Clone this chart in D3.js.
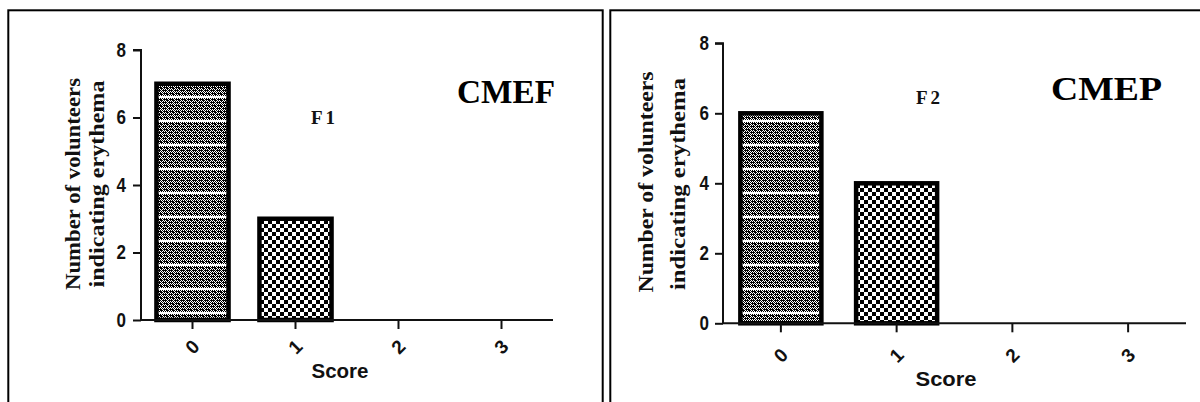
<!DOCTYPE html>
<html>
<head>
<meta charset="utf-8">
<script src="https://cdn.jsdelivr.net/npm/d3@7"></script>
<style>
  html, body { margin: 0; padding: 0; background: #fff; }
  svg { display: block; }
</style>
</head>
<body>
<svg id="chart" width="1200" height="402"></svg>
<script>
// ---- Data ----
const categories = ["0", "1", "2", "3"];
const f1Values = [7, 3, 0, 0];
const f2Values = [6, 4, 0, 0];
const yTicks = [0, 2, 4, 6, 8];
const yMax = 8;
const panelTitles = ["CMEF", "CMEP"];
const formulationLabels = ["F1", "F2"];
const xAxisTitle = "Score";
const yAxisTitleLines = ["Number of volunteers", "indicating erythema"];

const svg = d3.select("#chart");
const defs = svg.append("defs");

// Fine dotted pattern (bar 0)
const pA = defs.append("pattern").attr("id", "patFine")
  .attr("patternUnits", "userSpaceOnUse").attr("width", 6).attr("height", 24);
pA.append("rect").attr("width", 6).attr("height", 24).attr("fill", "#fff");
for (let y = 0; y < 24; y++) {
  if (y === 0 || y === 1) continue; // white stripe
  for (let x = 0; x < 6; x++) {
    if ((x + y) % 2 === 0) pA.append("rect").attr("x", x).attr("y", y).attr("width", 1).attr("height", 1).attr("fill", "#000");
  }
  if (y % 3 === 0) pA.append("rect").attr("x", 1).attr("y", y).attr("width", 3).attr("height", 1).attr("fill", "#000");
  if (y % 6 === 4) pA.append("rect").attr("x", 4).attr("y", y - 1).attr("width", 2).attr("height", 2).attr("fill", "#000");
}

// Coarse checker pattern (bar 1)
const pB = defs.append("pattern").attr("id", "patCoarse")
  .attr("patternUnits", "userSpaceOnUse").attr("width", 8).attr("height", 8);
pB.append("rect").attr("width", 8).attr("height", 8).attr("fill", "#fff");
pB.append("rect").attr("x", 0).attr("y", 0).attr("width", 4).attr("height", 4).attr("fill", "#000");
pB.append("rect").attr("x", 4).attr("y", 4).attr("width", 4).attr("height", 4).attr("fill", "#000");

const patterns = ["url(#patFine)", "url(#patCoarse)", "#fff", "#fff"];

// Panel frames
svg.append("rect").attr("x", 8.3).attr("y", 10.3).attr("width", 594.4).attr("height", 420)
  .attr("fill", "none").attr("stroke", "#000").attr("stroke-width", 2);
svg.append("rect").attr("x", 610.3).attr("y", 10.3).attr("width", 620).attr("height", 420)
  .attr("fill", "none").attr("stroke", "#000").attr("stroke-width", 2);

const panels = [
  { values: f1Values, title: panelTitles[0], form: formulationLabels[0],
    x0: 141, x1: 553, yTop: 50, yBot: 320,
    titleX: 457, titleY: 103, titleLen: 98,
    formX: 311, formY: 124,
    scoreX: 340, scoreY: 378, scoreLen: 57,
    ytl: [{x: 80, cy: 184, len: 212}, {x: 104, cy: 184, len: 207}],
    tickLabelDy: 27, yLabelGap: 15 },
  { values: f2Values, title: panelTitles[1], form: formulationLabels[1],
    x0: 723, x1: 1186, yTop: 43.3, yBot: 323.3,
    titleX: 1051, titleY: 100, titleLen: 111,
    formX: 916, formY: 104,
    scoreX: 946, scoreY: 386, scoreLen: 61,
    ytl: [{x: 653, cy: 182, len: 221}, {x: 685, cy: 184, len: 212}],
    tickLabelDy: 32, yLabelGap: 14 }
];

panels.forEach(p => {
  const g = svg.append("g");
  const x = d3.scaleBand().domain(categories).range([p.x0, p.x1]).paddingInner(0.3).paddingOuter(0.15);
  const y = d3.scaleLinear().domain([0, yMax]).range([p.yBot, p.yTop]);

  // bars
  g.selectAll("rect.bar").data(categories.map((c, i) => ({c, v: p.values[i], i})).filter(d => d.v > 0))
    .join("rect").attr("class", "bar")
    .attr("x", d => x(d.c)).attr("width", x.bandwidth())
    .attr("y", d => y(d.v)).attr("height", d => y(0) - y(d.v))
    .attr("fill", d => patterns[d.i])
    .attr("stroke", "#000").attr("stroke-width", 4.5);

  // y axis
  const yAxis = d3.axisLeft(y).tickValues(yTicks).tickSize(8).tickPadding(p.yLabelGap - 8);
  const ya = g.append("g").attr("transform", `translate(${p.x0},0)`).call(yAxis);
  ya.attr("font-size", null);
  ya.select(".domain").attr("stroke", "#111").attr("stroke-width", 2).attr("d", `M-8,${p.yTop}H0V${p.yBot}`);
  ya.selectAll(".tick line").attr("stroke", "#111").attr("stroke-width", 2);
  ya.selectAll(".tick text").attr("font-family", "'Liberation Sans', Arial, sans-serif")
    .attr("font-weight", "bold").attr("font-size", 20).attr("fill", "#111")
    .attr("transform", "scale(0.85,1)").attr("x", -(p.yLabelGap) / 0.85);

  // x axis
  const xAxis = d3.axisBottom(x).tickSize(9).tickPadding(0);
  const xa = g.append("g").attr("transform", `translate(0,${p.yBot})`).call(xAxis);
  xa.attr("font-size", null);
  xa.select(".domain").attr("stroke", "#111").attr("stroke-width", 2).attr("d", `M${p.x0},0H${p.x1}`);
  xa.selectAll(".tick line").attr("stroke", "#111").attr("stroke-width", 2);
  xa.selectAll(".tick text")
    .attr("font-family", "'Liberation Sans', Arial, sans-serif")
    .attr("font-weight", "bold").attr("font-size", 19).attr("fill", "#111")
    .attr("y", 0).attr("dy", null)
    .attr("text-anchor", "middle").attr("dominant-baseline", "central")
    .attr("transform", `translate(0,${p.tickLabelDy}) rotate(-45)`);

  // x title
  g.append("text").attr("x", p.scoreX).attr("y", p.scoreY)
    .attr("text-anchor", "middle")
    .attr("font-family", "'Liberation Sans', Arial, sans-serif")
    .attr("font-weight", "bold").attr("font-size", 20).attr("fill", "#111")
    .attr("textLength", p.scoreLen).attr("lengthAdjust", "spacingAndGlyphs")
    .text(xAxisTitle);

  // y title (two lines)
  yAxisTitleLines.forEach((t, i) => {
    const d = p.ytl[i];
    g.append("text")
      .attr("transform", `translate(${d.x},${d.cy}) rotate(-90)`)
      .attr("text-anchor", "middle")
      .attr("font-family", "'Liberation Serif', 'Times New Roman', serif")
      .attr("font-weight", "bold").attr("font-size", 22).attr("fill", "#111")
      .attr("textLength", d.len).attr("lengthAdjust", "spacingAndGlyphs")
      .text(t);
  });

  // panel title
  g.append("text").attr("x", p.titleX).attr("y", p.titleY)
    .attr("font-family", "'Liberation Serif', 'Times New Roman', serif")
    .attr("font-weight", "bold").attr("font-size", 33).attr("fill", "#000")
    .attr("textLength", p.titleLen).attr("lengthAdjust", "spacingAndGlyphs")
    .text(p.title);

  // formulation label
  g.append("text").attr("x", p.formX).attr("y", p.formY)
    .attr("font-family", "'Liberation Serif', 'Times New Roman', serif")
    .attr("font-weight", "bold").attr("font-size", 19).attr("fill", "#111")
    .attr("letter-spacing", 3)
    .text(p.form);
});
</script>
</body>
</html>
